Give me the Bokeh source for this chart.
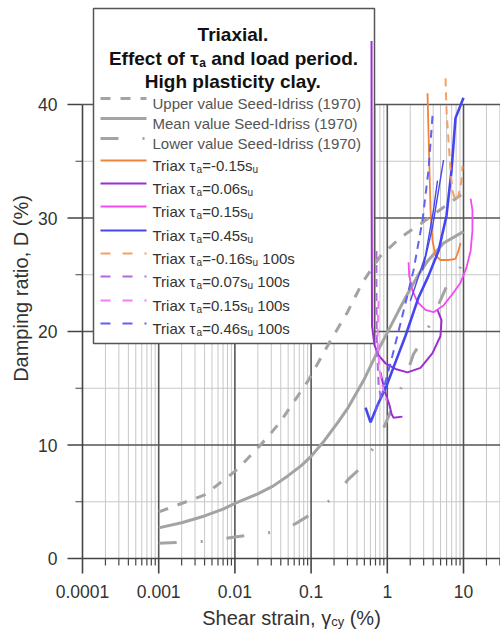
import math
from bokeh.plotting import figure
from bokeh.models import Label
from bokeh.core.properties import value
from bokeh.embed import file_html
from bokeh.resources import INLINE

# ---------------- data (shear strain in %, damping ratio in %) ----------------
upper_strain = [0.001, 0.004, 0.011, 0.027, 0.04, 0.09, 0.18, 0.3, 0.47, 0.8, 1.5, 2.75, 5.1, 8.3, 10.0]
upper_D = [4.1, 5.6, 7.9, 10.7, 12.1, 15.6, 19.2, 21.7, 24.3, 26.6, 28.3, 29.5, 30.8, 31.8, 32.2]

mean_strain = [0.001, 0.002, 0.004, 0.007, 0.01, 0.02, 0.032, 0.05, 0.075, 0.1, 0.15, 0.22,
               0.3, 0.49, 0.74, 1.0, 1.4, 1.84, 2.5, 3.37, 5.5, 10.0]
mean_D = [2.7, 3.15, 3.75, 4.35, 4.85, 5.7, 6.4, 7.3, 8.2, 9.0, 10.4, 11.9,
          13.2, 15.7, 18.2, 19.9, 21.8, 23.3, 24.9, 26.2, 27.8, 28.8]

lower_strain = [0.001, 0.004, 0.01, 0.03, 0.06, 0.1, 0.2, 0.31, 0.45, 0.77, 1.17, 1.73, 2.2, 3.0, 6.2, 8.3, 10.0]
lower_D = [1.35, 1.5, 1.9, 2.3, 3.0, 3.9, 5.4, 7.0, 8.0, 10.5, 13.3, 15.9, 18.0, 19.4, 24.2, 24.9, 26.5]

# Triax tau_a = -0.15 su
tx_m015_strain = [3.37, 3.47, 3.58, 3.69, 3.92, 4.29, 4.99, 6.36, 7.85, 8.59, 9.14]
tx_m015_D = [41.0, 37.7, 34.2, 30.7, 28.0, 26.7, 26.3, 26.3, 26.4, 27.1, 27.8]

# Triax tau_a = 0.06 su (two branches)
tx_006_strain = [[0.621, 0.623, 0.63, 0.679, 0.767, 0.946, 1.28, 1.84, 2.73, 3.92, 4.99, 5.14, 4.56],
                 [0.815, 0.918, 1.07, 1.14, 1.21, 1.58]]
tx_006_D = [[45.6, 32.0, 20.5, 18.8, 17.9, 17.2, 16.7, 16.4, 16.8, 18.1, 19.6, 21.0, 21.9],
            [16.4, 14.8, 13.5, 12.7, 12.4, 12.5]]

# Triax tau_a = 0.15 su
tx_015_strain = [1.90, 1.94, 2.14, 2.49, 3.17, 4.04, 5.47, 7.17, 9.14, 10.9, 12.4, 13.1, 13.1, 12.4]
tx_015_D = [26.1, 24.9, 23.6, 22.6, 21.9, 21.7, 22.3, 23.3, 24.3, 25.6, 27.1, 28.9, 30.7, 31.7]

# Triax tau_a = 0.45 su (main path + branches)
tx_045_strain = [[0.518, 0.603, 0.743, 0.976, 1.28, 1.73, 2.57, 3.47, 4.70, 5.98, 6.96, 7.85, 10.0],
                 [2.90, 3.92, 5.47],
                 [2.01, 3.17, 4.04, 4.56]]
tx_045_D = [[13.3, 12.0, 13.5, 15.2, 17.3, 19.6, 23.0, 24.9, 27.1, 30.2, 34.2, 38.8, 40.6],
            [25.4, 29.2, 35.1],
            [22.7, 26.7, 30.7, 33.3]]

# Triax, 100 s load period
tx_m016_100_strain = [5.81, 5.98, 6.36, 6.75, 7.17, 7.85, 8.59, 9.42, 9.70]
tx_m016_100_D = [42.3, 39.5, 36.8, 34.2, 32.4, 31.5, 32.0, 33.3, 34.6]

tx_007_100_strain = [0.721, 0.721, 0.73, 0.767, 0.83]
tx_007_100_D = [27.1, 22.7, 18.8, 15.4, 13.9]

tx_015_100_strain = [0.767, 0.743, 0.791, 0.891, 0.976]
tx_015_100_D = [22.7, 19.2, 16.6, 14.8, 13.9]

tx_046_100_strain = [3.92, 3.47, 2.90, 2.21, 1.58, 1.17, 0.865, 0.70]
tx_046_100_D = [39.0, 34.2, 29.8, 25.4, 21.4, 17.9, 14.6, 13.0]

x_ticks = [0.0001, 0.001, 0.01, 0.1, 1, 10]
x_tick_labels = ["0.0001", "0.001", "0.01", "0.1", "1", "10"]
y_ticks = [0, 10, 20, 30, 40]
y_tick_labels = ["0", "10", "20", "30", "40"]
y_minor = [5, 15, 25, 35]

# ---------------- layout (whole canvas is the frame; axes drawn by hand) ----------------
W, H = 500, 632
AXL, AXB = 82, 558          # pixel position of the y axis / x axis
PPD, PPU = 76.2, 11.35      # pixels per decade (x), pixels per damping unit (y)
X0 = 1e-4
FONT = "Liberation Sans"


def px2x(px):
    return 10 ** (math.log10(X0) + (px - AXL) / PPD)


def px2y(py):
    return (AXB - py) / PPU


XL, XR = px2x(0), px2x(W)
YB, YT = px2y(H), px2y(0)

p = figure(width=W, height=H, x_axis_type="log", x_range=(XL, XR), y_range=(YB, YT),
           x_axis_location=None, y_axis_location=None,
           output_backend="svg", toolbar_location=None, min_border=0)
p.outline_line_color = None
p.background_fill_color = "white"
p.border_fill_color = "white"
p.xgrid.visible = False
p.ygrid.visible = False

# ---------------- grid lines (bounded to 0 <= D <= 40) ----------------
minor_x, major_x = [], []
for n in range(-4, 2):
    for k in range(1, 10):
        v = k * 10.0 ** n
        if v >= XR:
            continue
        (major_x if k == 1 else minor_x).append(v)
grid_major_x = [v for v in major_x if v > X0]
p.segment(x0=minor_x, y0=[0] * len(minor_x), x1=minor_x, y1=[40] * len(minor_x),
          line_color="#c8c8c8", line_width=1)
p.segment(x0=[X0] * len(y_minor), y0=y_minor, x1=[XR] * len(y_minor), y1=y_minor,
          line_color="#c8c8c8", line_width=1)
p.segment(x0=grid_major_x, y0=[0] * len(grid_major_x), x1=grid_major_x, y1=[40] * len(grid_major_x),
          line_color="#555555", line_width=1.6)
yl = y_ticks[1:]
p.segment(x0=[X0] * len(yl), y0=yl, x1=[XR] * len(yl), y1=yl,
          line_color="#555555", line_width=1.6)

# ---------------- axes ----------------
AX_COL = "#444444"
p.segment(x0=[X0], y0=[0], x1=[XR], y1=[0], line_color=AX_COL, line_width=1.6)
p.segment(x0=[X0], y0=[0], x1=[X0], y1=[40], line_color=AX_COL, line_width=1.6)
p.segment(x0=x_ticks, y0=[0] * len(x_ticks), x1=x_ticks, y1=[px2y(AXB + 15)] * len(x_ticks),
          line_color=AX_COL, line_width=1.6)
p.segment(x0=minor_x, y0=[0] * len(minor_x), x1=minor_x, y1=[px2y(AXB + 7)] * len(minor_x),
          line_color=AX_COL, line_width=1.2)
p.segment(x0=[px2x(AXL - 15)] * len(y_ticks), y0=y_ticks, x1=[X0] * len(y_ticks), y1=y_ticks,
          line_color=AX_COL, line_width=1.6)
p.segment(x0=[px2x(AXL - 7)] * len(y_minor), y0=y_minor, x1=[X0] * len(y_minor), y1=y_minor,
          line_color=AX_COL, line_width=1.2)
p.text(x=x_ticks, y=[px2y(AXB + 26)] * len(x_ticks), text=x_tick_labels,
       text_align="center", text_baseline="top", text_font=value(FONT),
       text_font_size=value("17.5px"), text_color="#333333")
p.text(x=[px2x(AXL - 25)] * len(y_ticks), y=y_ticks, text=y_tick_labels,
       text_align="right", text_baseline="middle", text_font=value(FONT),
       text_font_size=value("17.5px"), text_color="#333333")
p.text(x=[px2x(20)], y=[px2y(288)], text=["Damping ratio, D (%)"], angle=math.pi / 2,
       text_align="center", text_baseline="middle", text_font=value(FONT),
       text_font_size=value("20px"), text_color="#333333")

# ---------------- legend box ----------------
p.quad(left=px2x(93), right=px2x(374), top=px2y(8), bottom=px2y(343),
       fill_color="white", line_color="#555555", line_width=1.5)

# ---------------- curves ----------------
GRAY = "#a3a3a3"
DASH_SI = "10 10"
DASH_LOW = "18 24 2 24"
DASH_TX = "8 6"
C_OR, C_OR_D = "#f0843c", "#f5a064"
C_PU, C_PU_D = "#9a30d0", "#b468e0"
C_PK, C_PK_D = "#f04cf0", "#f47cf4"
C_BL, C_BL_D = "#4646f0", "#6262f0"

p.line(upper_strain, upper_D, line_color=GRAY, line_width=3, line_dash=DASH_SI)
p.line(mean_strain, mean_D, line_color=GRAY, line_width=3)
p.line(lower_strain, lower_D, line_color=GRAY, line_width=3, line_dash=DASH_LOW)

p.line(tx_m015_strain, tx_m015_D, line_color=C_OR, line_width=1.8)
p.multi_line(tx_006_strain, tx_006_D, line_color=C_PU, line_width=2)
p.line(tx_015_strain, tx_015_D, line_color=C_PK, line_width=1.8)
p.multi_line(tx_045_strain, tx_045_D, line_color=C_BL, line_width=[2.6, 1.4, 1.4])
p.line(tx_m016_100_strain, tx_m016_100_D, line_color=C_OR_D, line_width=2, line_dash=DASH_TX)
p.line(tx_007_100_strain, tx_007_100_D, line_color=C_PU_D, line_width=2, line_dash=DASH_TX)
p.line(tx_015_100_strain, tx_015_100_D, line_color=C_PK_D, line_width=2, line_dash=DASH_TX)
p.line(tx_046_100_strain, tx_046_100_D, line_color=C_BL_D, line_width=2, line_dash=DASH_TX)

# ---------------- text helpers ----------------
AR = {' ': 278, '(': 333, ')': 333, ',': 278, '-': 333, '.': 278, '=': 584, '%': 889,
      'D': 722, 'I': 278, 'L': 556, 'M': 833, 'S': 667, 'T': 611, 'U': 722,
      'a': 556, 'c': 500, 'd': 556, 'e': 556, 'g': 556, 'h': 556, 'i': 222, 'l': 222,
      'm': 833, 'n': 556, 'o': 556, 'p': 556, 'r': 333, 's': 500, 't': 278, 'u': 556,
      'v': 500, 'w': 722, 'x': 500, 'y': 500, 'τ': 440, 'γ': 500}
AB = {' ': 278, '.': 278, 'E': 667, 'H': 722, 'T': 611, 'a': 556, 'c': 556, 'd': 611,
      'e': 556, 'f': 333, 'g': 611, 'h': 611, 'i': 278, 'l': 278, 'n': 611, 'o': 611,
      'p': 611, 'r': 389, 's': 556, 't': 333, 'x': 556, 'y': 556, 'τ': 480}


def tw(t, size, bold=False):
    tab = AB if bold else AR
    return sum(tab.get(ch, 556) for ch in t) / 1000.0 * size


def run_width(parts, size, sub, bold=False):
    return sum(tw(t, sub if s else size, bold) for t, s in parts)


def text_run(x_px, base_px, parts, size, sub, drop, color, bold=False):
    x = x_px
    for t, s in parts:
        fs = sub if s else size
        lead = len(t) - len(t.lstrip(" "))
        x += tw(" " * lead, fs, bold)
        body = t.strip(" ")
        if body:
            p.add_layout(Label(x=px2x(x), y=px2y(base_px + (drop if s else 0)), text=body,
                               text_font=FONT, text_font_size=f"{fs}px",
                               text_font_style="bold" if bold else "normal",
                               text_color=color, text_baseline="alphabetic", text_align="left"))
        x += tw(t[lead:], fs, bold)


# ---------------- legend contents ----------------
title_lines = [
    [("Triaxial.", 0)],
    [("Effect of τ", 0), ("a", 1), (" and load period.", 0)],
    [("High plasticity clay.", 0)],
]
for parts, base in zip(title_lines, [34, 58, 81]):
    wdt = run_width(parts, 19, 12, True)
    text_run(233 - wdt / 2, base, parts, 19, 12, 4, "#111111", bold=True)

entries = [
    ([("Upper value Seed-Idriss (1970)", 0)], "#555555", GRAY, DASH_SI, 3),
    ([("Mean value Seed-Idriss (1970)", 0)], "#555555", GRAY, None, 3),
    ([("Lower value Seed-Idriss (1970)", 0)], "#555555", GRAY, DASH_LOW, 3),
    ([("Triax τ", 0), ("a", 1), ("=-0.15s", 0), ("u", 1)], "#333333", C_OR, None, 2),
    ([("Triax τ", 0), ("a", 1), ("=0.06s", 0), ("u", 1)], "#333333", C_PU, None, 2),
    ([("Triax τ", 0), ("a", 1), ("=0.15s", 0), ("u", 1)], "#333333", C_PK, None, 2),
    ([("Triax τ", 0), ("a", 1), ("=0.45s", 0), ("u", 1)], "#333333", C_BL, None, 2),
    ([("Triax τ", 0), ("a", 1), ("=-0.16s", 0), ("u", 1), (" 100s", 0)], "#333333", C_OR_D, "10 12", 2),
    ([("Triax τ", 0), ("a", 1), ("=0.07s", 0), ("u", 1), (" 100s", 0)], "#333333", C_PU_D, "10 12", 2),
    ([("Triax τ", 0), ("a", 1), ("=0.15s", 0), ("u", 1), (" 100s", 0)], "#333333", C_PK_D, "10 12", 2),
    ([("Triax τ", 0), ("a", 1), ("=0.46s", 0), ("u", 1), (" 100s", 0)], "#333333", C_BL_D, "10 12", 2),
]
rows = [98, 118, 138, 160, 183, 206, 230, 253, 276, 300, 323]
for (parts, tcol, lcol, dash, lw), yc in zip(entries, rows):
    kw = dict(line_color=lcol, line_width=lw)
    if dash:
        kw["line_dash"] = dash
    p.line([px2x(100), px2x(146)], [px2y(yc), px2y(yc)], **kw)
    text_run(152, yc + 5, parts, 15, 10, 4, tcol)

# ---------------- x-axis title with subscript ----------------
xparts = [("Shear strain, γ", 0), ("cy", 1), (" (%)", 0)]
xw = run_width(xparts, 20, 13)
text_run((AXL + W) / 2 - xw / 2, 617, xparts, 20, 13, 4, "#333333")

open("out.html", "w").write(file_html(p, INLINE))
